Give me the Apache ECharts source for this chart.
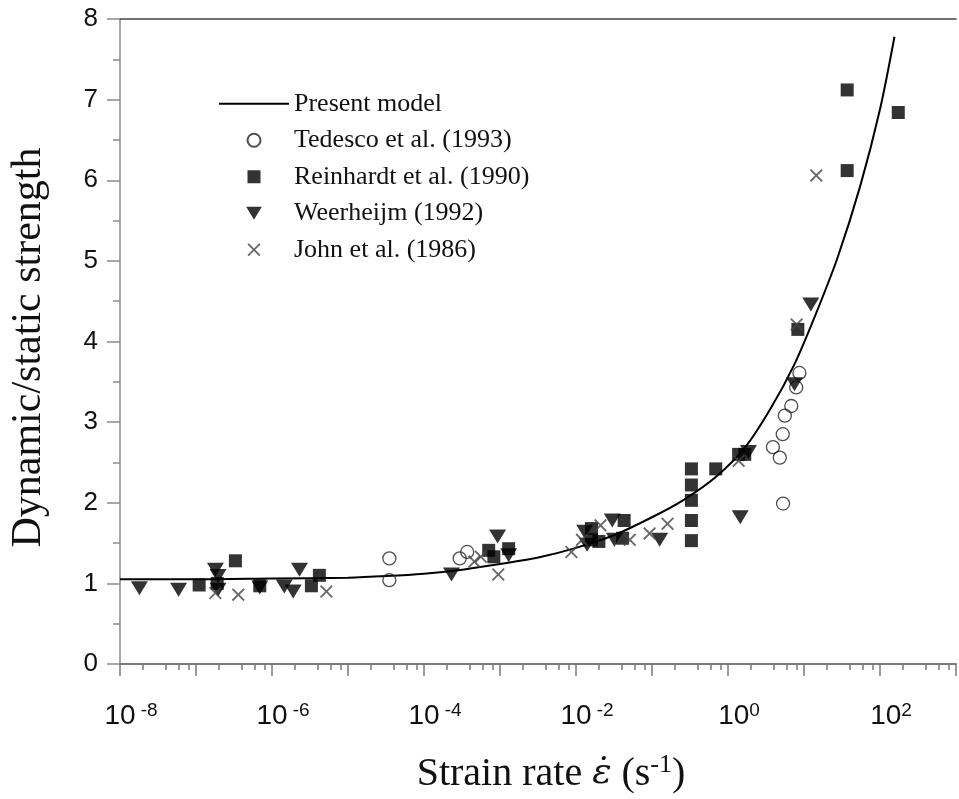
<!DOCTYPE html>
<html><head><meta charset="utf-8">
<script src="https://cdn.jsdelivr.net/npm/echarts@6/dist/echarts.min.js"></script>
<style>html,body{margin:0;padding:0;background:#fff}#c{width:959px;height:799px}</style>
</head><body><div id="c"></div>
<script>
// ---- data (strain rate in 1/s, dynamic/static strength ratio) ----
const modelRate  = [1e-8, 1e-7, 1e-6, 1e-5, 3.2e-5, 1e-4, 3.2e-4, 1e-3, 3.2e-3, 1e-2, 3.2e-2, 0.1, 0.255, 0.69, 1.69, 3.7, 7.5, 13.6, 27.4, 55, 100, 155];
const modelRatio = [1.05, 1.05, 1.06, 1.07, 1.09, 1.12, 1.17, 1.24, 1.32, 1.44, 1.60, 1.82, 2.03, 2.32, 2.69, 3.18, 3.72, 4.29, 5.03, 5.93, 6.88, 7.78];

const tedescoRate  = [3.5e-5, 3.5e-5, 2.95e-4, 3.7e-4, 3.9, 4.8, 5.25, 5.3, 5.6, 6.8, 7.9, 8.7];
const tedescoRatio = [1.31, 1.04, 1.31, 1.39, 2.69, 2.56, 2.85, 1.99, 3.08, 3.20, 3.43, 3.61];

const reinhardtRate  = [1.1e-7, 1.9e-7, 3.3e-7, 6.9e-7, 3.3e-6, 4.2e-6, 7.1e-4, 8.3e-4, 1.3e-3, 1.6e-2, 1.6e-2, 2.0e-2, 4.3e-2, 4.1e-2, 0.33, 0.33, 0.33, 0.33, 0.33, 0.69, 1.38, 1.66, 8.3, 37, 37, 174];
const reinhardtRatio = [0.98, 1.00, 1.28, 0.97, 0.97, 1.10, 1.41, 1.33, 1.43, 1.68, 1.54, 1.52, 1.78, 1.56, 2.42, 2.22, 2.03, 1.78, 1.53, 2.42, 2.60, 2.60, 4.15, 7.12, 6.12, 6.84];

const weerheijmRate  = [1.8e-8, 5.9e-8, 1.8e-7, 1.95e-7, 1.95e-7, 6.9e-7, 1.45e-6, 1.9e-6, 2.3e-6, 2.3e-4, 9.3e-4, 1.3e-3, 1.3e-2, 1.4e-2, 3.0e-2, 3.2e-2, 0.126, 1.45, 1.86, 7.5, 12.3];
const weerheijmRatio = [0.94, 0.92, 1.17, 1.09, 0.92, 0.95, 0.96, 0.90, 1.17, 1.11, 1.58, 1.35, 1.64, 1.48, 1.78, 1.54, 1.54, 1.82, 2.63, 3.47, 4.46];

const johnRate  = [1.8e-7, 3.6e-7, 5.2e-6, 4.6e-4, 5.6e-4, 9.5e-4, 8.7e-3, 1.2e-2, 2.1e-2, 5.1e-2, 9.3e-2, 0.16, 1.38, 8.0, 14.5];
const johnRatio = [0.88, 0.86, 0.90, 1.27, 1.33, 1.11, 1.39, 1.54, 1.72, 1.54, 1.62, 1.74, 2.52, 4.21, 6.06];

const xLabelExponents = [-8, -6, -4, -2, 0, 2];
const seriesNames = ['Present model', 'Tedesco et al. (1993)', 'Reinhardt et al. (1990)', 'Weerheijm (1992)', 'John et al. (1986)'];

// ---- helpers ----
const toPts = (r, v) => r.map((x, i) => [Math.log10(x), v[i]]);
const minorTicks = [];
for (let n = -8; n < 3; n++) [2, 4, 6, 8].forEach(m => minorTicks.push(n + Math.log10(m)));

const axisGray = '#7a7a7a';
const sans = 'Liberation Sans';
const serif = 'Liberation Serif';
const crossPath = 'path://M0,1L1,0L5,4L9,0L10,1L6,5L10,9L9,10L5,6L1,10L0,9L4,5Z';

const chart = echarts.init(document.getElementById('c'), null, {renderer: 'canvas'});
chart.setOption({
  animation: false,
  backgroundColor: '#fff',
  grid: {left: 120, top: 19, width: 847, height: 649, containLabel: false},
  legend: {
    orient: 'vertical', left: 213, top: 84,
    itemWidth: 70, itemHeight: 13, itemGap: 7, itemTextGap: 12,
    symbolKeepAspect: true,
    textStyle: {fontFamily: serif, fontSize: 26, color: '#111', lineHeight: 29.5},
    data: [
      {name: seriesNames[0], itemStyle: {opacity: 0}},
      {name: seriesNames[1]},
      {name: seriesNames[2], icon: 'path://M0,0L10,0L10,10L0,10Z'},
      {name: seriesNames[3], icon: 'path://M0,0L12,0L6,10Z', itemStyle: {color: '#000'}},
      {name: seriesNames[4]}
    ]
  },
  xAxis: [
    {
      type: 'value', min: -8, max: 3, interval: 1, position: 'bottom',
      axisLine: {onZero: false, lineStyle: {color: axisGray, width: 2}},
      axisTick: {show: true, length: 12, lineStyle: {color: axisGray, width: 1.5}},
      splitLine: {show: false},
      axisLabel: {
        margin: 37, color: '#111',
        formatter: v => {
          const e = Math.round(v);
          if (xLabelExponents.indexOf(e) < 0) return '';
          return e < 0 ? '{spn| }{b|10}{sn|' + e + '}' : '{spp| }{b|10}{sp|' + e + '}';
        },
        rich: {
          b: {fontFamily: sans, fontSize: 28, color: '#111', lineHeight: 30},
          sn: {fontFamily: sans, fontSize: 19, color: '#111', verticalAlign: 'top', lineHeight: 19, padding: [0, 0, 0, 5]},
          sp: {fontFamily: sans, fontSize: 19, color: '#111', verticalAlign: 'top', lineHeight: 19},
          spn: {width: 22, fontSize: 19},
          spp: {width: 22, fontSize: 19}
        }
      },
      name: '{t|Strain rate }{e|ε̇}{t| (s}{u|-1}{t|)}',
      nameLocation: 'middle', nameGap: 88,
      nameTextStyle: {
        fontFamily: serif, fontSize: 40, color: '#111', padding: [0, 0, 0, 26],
        rich: {
          t: {fontFamily: serif, fontSize: 40, color: '#111', lineHeight: 44},
          e: {fontFamily: 'DejaVu Serif', fontSize: 36, fontStyle: 'italic', color: '#111', lineHeight: 44},
          u: {fontFamily: serif, fontSize: 26, color: '#111', verticalAlign: 'top', lineHeight: 26}
        }
      }
    },
    {
      type: 'value', min: -8, max: 3, position: 'bottom',
      axisLine: {show: false, onZero: false},
      axisLabel: {show: false},
      splitLine: {show: false},
      axisTick: {show: true, length: 6, customValues: minorTicks, lineStyle: {color: axisGray, width: 1.5}}
    },
    {
      type: 'value', min: -8, max: 3, position: 'top',
      axisLine: {show: true, onZero: false, lineStyle: {color: '#444', width: 1.5}},
      axisTick: {show: false}, axisLabel: {show: false}, splitLine: {show: false}
    }
  ],
  yAxis: {
    type: 'value', min: 0, max: 8, interval: 1,
    axisLine: {show: true, onZero: false, lineStyle: {color: '#8a8a8a', width: 1.5}},
    axisTick: {show: true, length: 13, lineStyle: {color: '#8a8a8a', width: 1.5}},
    minorTick: {show: true, splitNumber: 2, length: 7, lineStyle: {color: '#8a8a8a', width: 1.5}},
    splitLine: {show: false},
    axisLabel: {fontFamily: sans, fontSize: 26, color: '#111', margin: 22},
    name: 'Dynamic/static strength',
    nameLocation: 'middle', nameGap: 70,
    nameTextStyle: {fontFamily: serif, fontSize: 42, color: '#111', padding: [0, 12, 0, 0]}
  },
  series: [
    {
      name: seriesNames[0], type: 'line', data: toPts(modelRate, modelRatio),
      symbol: 'none', showSymbol: false, smooth: 0.3, z: 1,
      lineStyle: {color: '#000', width: 2}, itemStyle: {color: '#000'}
    },
    {
      name: seriesNames[1], type: 'scatter', data: toPts(tedescoRate, tedescoRatio),
      symbol: 'circle', symbolSize: 13, z: 3,
      itemStyle: {color: 'rgba(0,0,0,0)', borderColor: '#222', borderWidth: 1.3}
    },
    {
      name: seriesNames[2], type: 'scatter', data: toPts(reinhardtRate, reinhardtRatio),
      symbol: 'rect', symbolSize: 13, z: 3,
      itemStyle: {color: '#000'}
    },
    {
      name: seriesNames[3], type: 'scatter', data: toPts(weerheijmRate, weerheijmRatio),
      symbol: 'triangle', symbolRotate: 180, symbolSize: [17, 14], z: 3,
      itemStyle: {color: '#000'}
    },
    {
      name: seriesNames[4], type: 'scatter', data: toPts(johnRate, johnRatio),
      symbol: crossPath, symbolSize: 13, z: 3,
      itemStyle: {color: '#444'}
    }
  ]
});
</script>
</body></html>
